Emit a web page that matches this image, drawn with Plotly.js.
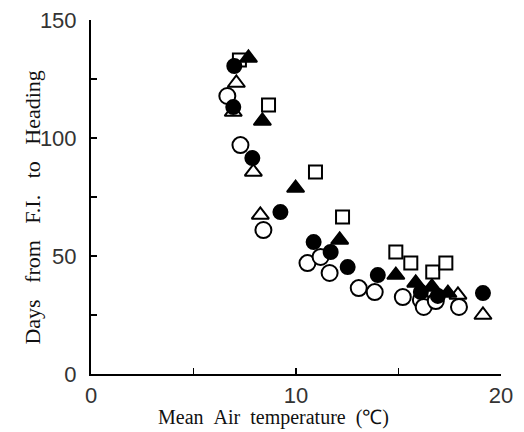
<!DOCTYPE html>
<html>
<head>
<meta charset="utf-8">
<script src="https://cdn.plot.ly/plotly-3.0.1.min.js"></script>
<style>html,body{margin:0;padding:0;background:#fff;}#chart{width:524px;height:432px;}</style>
</head>
<body>
<div id="chart"></div>
<script>
// Mean air temperature (°C) vs days from floral initiation to heading
var filledCircleX = [6.99, 6.94, 7.87, 9.24, 10.86, 11.69, 12.52, 13.99, 16.09, 16.92, 19.12];
var filledCircleY = [130.5, 113.1, 91.5, 68.6, 55.9, 51.7, 45.3, 41.9, 34.7, 33.1, 34.3];

var openCircleX = [6.65, 7.29, 8.41, 10.56, 11.2, 11.64, 13.06, 13.84, 15.21, 16.09, 16.23, 16.82, 17.95];
var openCircleY = [117.8, 97.0, 61.0, 47.0, 49.6, 42.8, 36.4, 34.7, 32.6, 31.4, 28.4, 30.9, 28.4];

var filledTriX = [7.68, 8.36, 9.98, 12.13, 14.87, 15.84, 16.63, 17.41];
var filledTriY = [133.9, 107.2, 78.8, 56.8, 41.9, 38.6, 36.9, 34.3];

var openTriX = [7.09, 6.94, 7.92, 8.26, 17.9, 19.12];
var openTriY = [123.3, 111.0, 85.6, 67.4, 33.5, 25.0];

var openSquareX = [7.24, 8.66, 10.95, 12.27, 14.87, 15.6, 16.67, 17.31];
var openSquareY = [133.0, 114.0, 85.6, 66.5, 51.7, 47.0, 43.2, 47.0];

var xTickVals = [0, 5, 10, 15, 20];
var xTickText = ['0', '', '10', '', '20'];
var yTickVals = [0, 25, 50, 75, 100, 125, 150];
var yTickText = ['0', '', '50', '', '100', '', '150'];

var sp2 = '\u00a0\u00a0';
var sp3 = '\u00a0\u00a0\u00a0';
var xTitle = ['Mean', 'Air', 'temperature', '(\u2103)'].join(sp2);
var yTitle = ['Days', 'from', 'F.I.', 'to', 'Heading'].join(sp3);

function tr(x, y, symbol, size, fill) {
  return {
    x: x, y: y, type: 'scatter', mode: 'markers', showlegend: false, cliponaxis: false,
    marker: {symbol: symbol, size: size, color: fill, line: {color: '#000', width: 2}}
  };
}

var data = [
  tr(openSquareX, openSquareY, 'square', 13, '#fff'),
  tr(openCircleX, openCircleY, 'circle', 16, '#fff'),
  tr(openTriX, openTriY, 'triangle-up', 15, '#fff'),
  tr(filledCircleX, filledCircleY, 'circle', 14, '#000'),
  tr(filledTriX, filledTriY, 'triangle-up', 15, '#000')
];

var tickFont = {family: 'Liberation Sans, Arial, sans-serif', size: 22, color: '#333'};
var xTitleFont = {family: 'Liberation Serif, Times New Roman, serif', size: 20, color: '#111'};
var yTitleFont = {family: 'Liberation Serif, Times New Roman, serif', size: 22, color: '#111'};

var layout = {
  width: 524, height: 432,
  margin: {l: 91, r: 23, t: 20, b: 58},
  paper_bgcolor: '#fff', plot_bgcolor: '#fff',
  xaxis: {
    range: [0, 20], tickvals: xTickVals, ticktext: xTickText,
    showline: true, linecolor: '#000', linewidth: 2, mirror: false,
    ticks: 'inside', ticklen: 6, tickwidth: 1.5, tickcolor: '#000',
    showgrid: false, zeroline: false, tickfont: tickFont, ticklabelstandoff: 1,
    automargin: false
  },
  yaxis: {
    range: [0, 150], tickvals: yTickVals, ticktext: yTickText,
    showline: true, linecolor: '#000', linewidth: 2, mirror: false,
    ticks: 'inside', ticklen: 6, tickwidth: 1.5, tickcolor: '#000',
    showgrid: false, zeroline: false, tickfont: tickFont, ticklabelstandoff: 8,
    automargin: false
  },
  annotations: [
    {text: xTitle, xref: 'paper', yref: 'paper', x: 0.445, y: 0, yshift: -43,
     xanchor: 'center', yanchor: 'middle', showarrow: false, font: xTitleFont},
    {text: yTitle, xref: 'paper', yref: 'paper', x: 0, y: 0.47, xshift: -58,
     xanchor: 'center', yanchor: 'middle', textangle: -90, showarrow: false, font: yTitleFont}
  ]
};

Plotly.newPlot('chart', data, layout, {staticPlot: true, displayModeBar: false});
</script>
</body>
</html>
